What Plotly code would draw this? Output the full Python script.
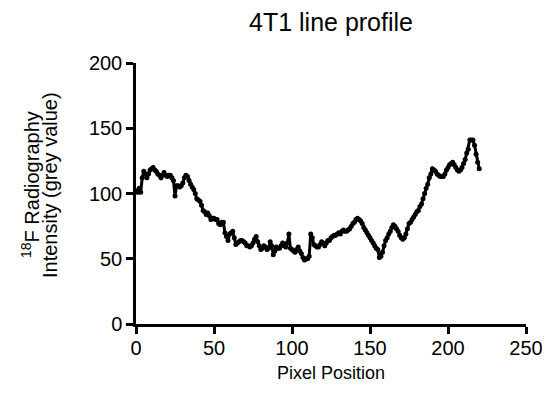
import plotly.graph_objects as go

title_text = "4T1 line profile"
x_title = "Pixel Position"
y_title_line1 = "<sup>18</sup>F Radiography"
y_title_line2 = "Intensity (grey value)"

pixel_position = list(range(0, 221))
grey_value = [
    102, 101, 104, 101, 112, 117, 115, 112, 115, 118,
    119, 120, 118, 117, 115, 114, 112, 114, 116, 114,
    113, 114, 114, 112, 110, 98, 106, 106, 105, 106,
    108, 112, 114, 113, 110, 107, 105, 103, 100, 96,
    95, 94, 91, 87, 86, 84, 85, 83, 80, 81,
    81, 80, 80, 77, 76, 78, 78, 70, 67, 64,
    69, 70, 71, 66, 61, 62, 63, 64, 64, 63,
    62, 60, 60, 59, 60, 62, 65, 67, 63, 60,
    57, 58, 60, 59, 57, 58, 63, 60, 53, 56,
    59, 58, 58, 60, 62, 60, 59, 62, 69, 58,
    57, 56, 55, 57, 59, 56, 54, 51, 49, 50,
    50, 52, 69, 66, 61, 60, 59, 59, 61, 63,
    62, 60, 62, 64, 64, 66, 67, 68, 68, 69,
    70, 69, 71, 72, 71, 71, 72, 73, 75, 77,
    78, 80, 81, 80, 79, 77, 74, 72, 70, 68,
    66, 64, 62, 60, 58, 57, 51, 52, 55, 60,
    64, 66, 69, 71, 74, 76, 75, 73, 71, 68,
    66, 65, 66, 69, 73, 77, 78, 80, 82, 84,
    86, 87, 90, 92, 96, 100, 104, 107, 112, 115,
    119, 118, 117, 115, 114, 113, 113, 113, 115, 118,
    120, 122, 123, 124, 122, 120, 118, 117, 118, 120,
    123, 126, 131, 134, 141, 141, 141, 137, 130, 124,
    119,
]

x_ticks = [0, 50, 100, 150, 200, 250]
y_ticks = [0, 50, 100, 150, 200]

FONT = "Liberation Sans, Arial, sans-serif"

# page body adds an 8px offset; margins compensate
L, R, T, B = 128, 32, 55, 78
PW = 550 - L - R
PH = 394 - T - B

def px_x(fig_px):
    return (fig_px - L) / PW

def px_y(fig_px):
    return (394 - B - fig_px) / PH

fig = go.Figure()
fig.add_trace(go.Scatter(
    x=pixel_position, y=grey_value, mode="lines+markers",
    line=dict(color="black", width=3),
    marker=dict(color="black", size=5),
    showlegend=False, hoverinfo="skip", cliponaxis=False,
))

fig.update_layout(
    width=550, height=394,
    margin=dict(l=L, r=R, t=T, b=B, autoexpand=False),
    paper_bgcolor="white", plot_bgcolor="white",
    font=dict(family=FONT, color="black", size=19),
    title=dict(text=title_text, xref="container", x=323 / 550, xanchor="center",
               y=1 - 14 / 394, yanchor="middle",
               font=dict(family=FONT, size=25, color="black")),
    xaxis=dict(
        range=[0, 250], tickvals=x_ticks, ticktext=[str(v) for v in x_ticks],
        showline=True, linecolor="black", linewidth=2.5,
        ticks="outside", ticklen=7, tickwidth=2.5, tickcolor="black",
        showgrid=False, zeroline=False, automargin=False,
        ticklabelstandoff=-3,
        title=dict(text=x_title, standoff=9, font=dict(size=18)),
        tickfont=dict(size=20),
    ),
    yaxis=dict(
        range=[0, 200], tickvals=y_ticks, ticktext=[str(v) for v in y_ticks],
        showline=True, linecolor="black", linewidth=2.5,
        ticks="outside", ticklen=7, tickwidth=2.5, tickcolor="black",
        showgrid=False, zeroline=False, automargin=False,
        tickfont=dict(size=20),
    ),
    annotations=[
        dict(text=y_title_line1, xref="paper", yref="paper",
             x=px_x(22), y=px_y(177), xanchor="center", yanchor="middle",
             textangle=-90, showarrow=False, font=dict(family=FONT, size=20, color="black")),
        dict(text=y_title_line2, xref="paper", yref="paper",
             x=px_x(42), y=px_y(177), xanchor="center", yanchor="middle",
             textangle=-90, showarrow=False, font=dict(family=FONT, size=20, color="black")),
    ],
)

fig.write_html("out.html")
